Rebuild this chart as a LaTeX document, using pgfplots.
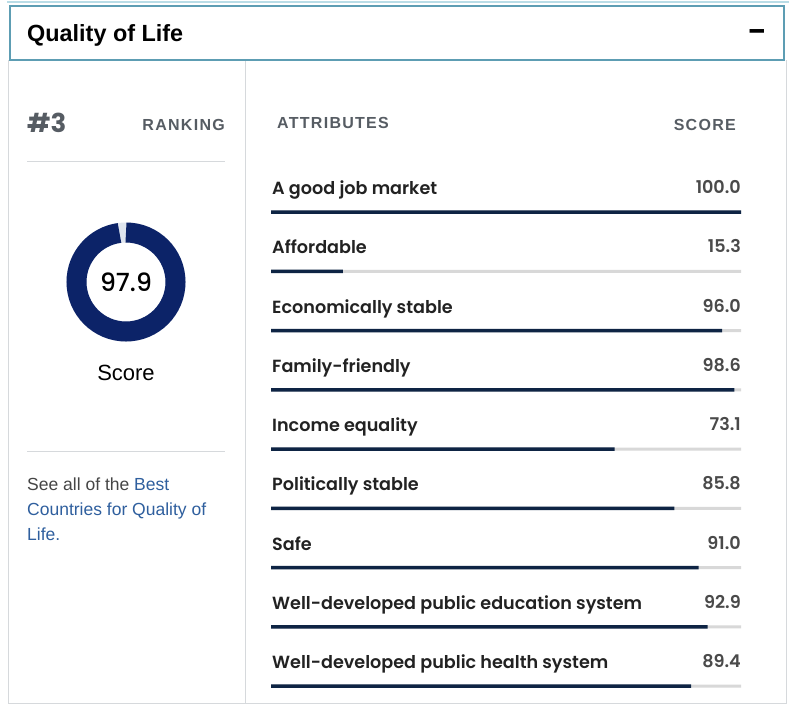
\documentclass[border=0pt]{standalone}
\usepackage{pgfplots}
\pgfplotsset{compat=1.18}
\usepackage{fontspec}
\setmainfont{Liberation Sans}
\newfontfamily\popsb{Poppins SemiBold}
\newfontfamily\popsm{Poppins Medium}
\newfontfamily\popsbold{Poppins}[BoldFont={* Bold}]
\definecolor{navyring}{HTML}{0C2368}
\definecolor{navybar}{HTML}{0E2444}
\definecolor{greybar}{HTML}{D8D8D8}
\definecolor{gapgrey}{HTML}{DFE5EE}
\definecolor{labeltxt}{HTML}{222222}
\definecolor{scoretxt}{HTML}{4A4A4A}
\definecolor{headgrey}{HTML}{565C63}
\definecolor{linkblue}{HTML}{2F5F9E}
\definecolor{bodygrey}{HTML}{454545}
\definecolor{divider}{HTML}{D6D9DC}
\definecolor{teal}{HTML}{5D9DB3}
\definecolor{lightteal}{HTML}{B9DCE6}
\begin{document}
\begin{tikzpicture}[x=1pt,y=1pt]
\path[use as bounding box, fill=white] (0,0) rectangle (797,-704);
% frames
\draw[lightteal, line width=2pt] (7,-2) -- (789,-2);
\draw[divider, line width=1pt] (8,-60) -- (8,-703) -- (786,-703) -- (786,-60);
\draw[divider, line width=1pt] (245,-61) -- (245,-704);
\draw[teal, line width=2.5pt] (10,-6) rectangle (784,-60);
% header
\node[anchor=base west, inner sep=0, font=\fontsize{23.4}{28}\selectfont\bfseries, text=black] at (27,-41) {Quality of Life};
\node[anchor=base, inner sep=0, font=\fontsize{26}{28}\popsbold\bfseries, text=black] at (757,-40) {\textendash};
% left panel
\node[anchor=base west, inner sep=0, font=\fontsize{26}{30}\popsbold\bfseries, text=headgrey] at (27,-132) {\#3};
\node[anchor=base east, inner sep=0, font=\fontsize{16}{20}\selectfont\bfseries\addfontfeature{LetterSpace=8}, text=headgrey] at (225,-130) {RANKING};
\draw[divider, line width=1pt] (27,-161) -- (225,-161);
\begin{axis}[at={(126pt,-282pt)}, anchor=center, scale only axis, width=120pt, height=120pt,
  xmin=-60, xmax=60, ymin=-60, ymax=60, hide axis, clip=false]
\draw[gapgrey, line width=20pt] (axis cs:0,0) circle[radius=49.5pt];
\draw[navyring, line width=20pt] (axis cs:0,49.5) arc[start angle=90, delta angle=-352.44, radius=49.5pt];
\node[anchor=base, inner sep=0, font=\fontsize{25}{29}\popsm, text=black] at (axis cs:0,-9) {97.9};
\end{axis}
\node[anchor=base, inner sep=0, font=\fontsize{22}{26}\selectfont, text=black] at (126,-380) {Score};
\draw[divider, line width=1pt] (27,-451) -- (225,-451);
\node[anchor=base west, inner sep=0, font=\fontsize{17.5}{21}\selectfont, text=bodygrey] at (27,-490) {See all of the \textcolor{linkblue}{Best}};
\node[anchor=base west, inner sep=0, font=\fontsize{17.5}{21}\selectfont, text=linkblue] at (27,-515) {Countries for Quality of};
\node[anchor=base west, inner sep=0, font=\fontsize{17.5}{21}\selectfont, text=linkblue] at (27,-540) {Life.};
% right panel headers
\node[anchor=base west, inner sep=0, font=\fontsize{16}{20}\selectfont\bfseries\addfontfeature{LetterSpace=8}, text=headgrey] at (277,-128) {ATTRIBUTES};
\node[anchor=base east, inner sep=0, font=\fontsize{16}{20}\selectfont\bfseries\addfontfeature{LetterSpace=8}, text=headgrey] at (736,-130) {SCORE};
% bars
\begin{axis}[at={(271pt,-212pt)}, anchor=north west, scale only axis, width=470pt, height=474pt,
  xmin=0, xmax=100, ymin=1, ymax=9, y dir=reverse, hide axis, clip=false,
  xbar, bar width=3.5pt, bar shift=0pt]
\addplot[fill=greybar, draw=none, bar width=3pt] coordinates {(100,1) (100,2) (100,3) (100,4) (100,5) (100,6) (100,7) (100,8) (100,9)};
\addplot[fill=navybar, draw=none] coordinates {(100.0,1) (15.3,2) (96.0,3) (98.6,4) (73.1,5) (85.8,6) (91.0,7) (92.9,8) (89.4,9)};
\end{axis}
% row labels and scores
\foreach \lab/\sc/\yy in {A good job market/100.0/188, Affordable/15.3/247, Economically stable/96.0/307, Family-friendly/98.6/366, Income equality/73.1/425, Politically stable/85.8/484, Safe/91.0/544, Well-developed public education system/92.9/603, Well-developed public health system/89.4/662}{
  \node[anchor=base west, inner sep=0, font=\fontsize{17.6}{21}\popsb, text=labeltxt] at (272,-\yy-6) {\lab};
  \node[anchor=base east, inner sep=0, font=\fontsize{17.6}{21}\popsb, text=scoretxt] at (741,-\yy-5) {\sc};
}
\end{tikzpicture}
\end{document}
